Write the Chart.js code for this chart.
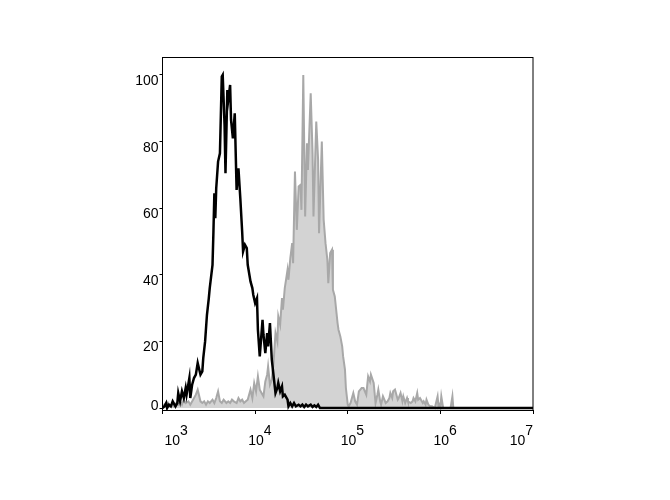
<!DOCTYPE html>
<html>
<head>
<meta charset="utf-8">
<script src="https://cdn.jsdelivr.net/npm/chart.js@4/dist/chart.umd.min.js"></script>
<style>
  html, body { margin: 0; padding: 0; background: #fff; }
  #wrap { width: 670px; height: 500px; }
</style>
</head>
<body>
<div id="wrap"><canvas id="histo" width="670" height="500"></canvas></div>
<script>
// x positions are in decades (log10 of fluorescence), y is % of max
var xTicks = [3, 4, 5, 6, 7];
var yTicks = [0, 20, 40, 60, 80, 100];

var blackX = [3.00, 3.02, 3.04, 3.05, 3.07, 3.09, 3.11, 3.14, 3.16, 3.17, 3.19, 3.21, 3.23, 3.25, 3.26, 3.29, 3.30, 3.32, 3.34, 3.36,
  3.38, 3.41, 3.43, 3.44, 3.46, 3.48, 3.50, 3.51, 3.54, 3.55, 3.56, 3.57, 3.58, 3.60, 3.62, 3.64, 3.65, 3.67, 3.68, 3.70,
  3.71, 3.73, 3.74, 3.76, 3.78, 3.80, 3.82, 3.84, 3.86, 3.87, 3.89, 3.91, 3.92, 3.95, 3.97, 3.98, 4.00, 4.02, 4.03, 4.05,
  4.08, 4.09, 4.11, 4.13, 4.14, 4.16, 4.17, 4.18, 4.20, 4.22, 4.24, 4.25, 4.27, 4.29, 4.30, 4.32, 4.35, 4.36, 4.38, 4.40,
  4.42, 4.44, 4.47, 4.49, 4.51, 4.53, 4.55, 4.57, 4.60, 4.62, 4.64, 4.66, 4.68, 4.70, 7.00];
var blackY = [0, 0.5, 1.5, 0, 1, 0.5, 2, 0.5, 1.5, 4.5, 2, 5, 3, 6, 4, 9, 3, 7, 9, 10,
  13.5, 10, 11, 15, 20, 28, 33, 36, 43, 53, 64.5, 57, 66, 74, 76.5, 99.5, 100, 85, 70.5, 95.5,
  92.5, 97, 86.5, 81, 88.5, 65.5, 72, 63, 53, 47, 49, 48, 43, 38, 36, 34, 31.5, 33, 23.5, 15.5,
  26.5, 22, 16.5, 22.5, 18.5, 25.5, 20, 14.5, 9.5, 4.5, 6, 7.5, 5, 6.5, 3.5, 4, 2.5, 0.5, 1.5, 0.5,
  1.5, 0.5, 1, 0.5, 1, 0.3, 1, 0.5, 1, 0.3, 0.8, 0.3, 1, 0, 0];

var grayX = [3.00, 3.02, 3.04, 3.06, 3.08, 3.10, 3.12, 3.15, 3.17, 3.19, 3.21, 3.23, 3.25, 3.28, 3.30, 3.33, 3.36, 3.38, 3.41, 3.43,
  3.45, 3.47, 3.49, 3.51, 3.54, 3.56, 3.58, 3.60, 3.62, 3.64, 3.66, 3.69, 3.71, 3.73, 3.75, 3.77, 3.80, 3.82, 3.84, 3.86,
  3.88, 3.90, 3.92, 3.95, 3.97, 3.99, 4.01, 4.03, 4.05, 4.08, 4.09, 4.11, 4.13, 4.14, 4.16, 4.18, 4.20, 4.22, 4.24, 4.25,
  4.27, 4.29, 4.30, 4.32, 4.35, 4.36, 4.38, 4.40, 4.41, 4.43, 4.45, 4.47, 4.49, 4.50, 4.52, 4.54, 4.56, 4.57,
  4.60, 4.62, 4.63, 4.66, 4.68, 4.69, 4.72, 4.74, 4.76, 4.78, 4.79, 4.81, 4.83, 4.84, 4.86,
  4.89, 4.90, 4.92, 4.94, 4.95, 4.97, 4.98, 5.00, 5.01, 5.03, 5.06, 5.08, 5.10, 5.12, 5.15, 5.17, 5.20, 5.22, 5.24, 5.25,
  5.28, 5.30, 5.32, 5.33, 5.35, 5.36, 5.38, 5.41, 5.43, 5.45, 5.46, 5.48, 5.49, 5.51, 5.54, 5.55, 5.57, 5.59, 5.60, 5.62,
  5.64, 5.65, 5.68, 5.70, 5.71, 5.73, 5.75, 5.76, 5.78, 5.81, 5.82, 5.84, 5.85, 5.87, 5.89, 5.91, 5.94, 5.97, 5.98, 5.99,
  6.00, 6.01, 6.03, 6.11, 6.13, 6.14, 7.00];
var grayY = [0, 1, 0.5, 1.5, 0.5, 1, 0.5, 1.5, 1, 2, 1, 2.5, 1.5, 2, 1, 2.5, 4, 5.5, 2, 1.5,
  2, 1, 2, 1.5, 2.5, 1.5, 3, 5, 2, 1.5, 2.5, 1.5, 2, 1.5, 2.5, 2, 1.5, 3, 2, 2.5,
  1.5, 2, 2.5, 5.5, 3, 7.5, 5, 9.5, 5.5, 4, 3.5, 8, 10, 12.5, 7, 8.5, 14, 22.5, 20, 27.5,
  25, 33, 29.5, 36, 41.5, 38.5, 45, 49.5, 43.5, 71, 53.5, 66.5, 67, 59.5, 100, 57.5, 79.5, 71.5,
  94.5, 76.5, 57.5, 86, 74.5, 52.5, 80, 56.5, 49.5, 44.5, 37.5, 46.5, 47.5, 35.5, 33.5,
  25.5, 23.5, 21.5, 18.5, 15.5, 11.5, 6, 1, 0.5, 1.5, 4.5, 2, 1, 5, 6, 6, 4, 9.5, 8, 10,
  7.5, 1.5, 4, 5.5, 2, 1, 3.5, 1.5, 2, 3, 4.5, 3, 5, 5.5, 2.5, 3, 4.5, 2, 3.5, 1.5,
  3, 2, 1.5, 2, 3, 2, 4.5, 2.5, 3, 1.5, 2, 1, 2.5, 1, 0.5, 0.5, 0, 3.5, 0.5, 1,
  0.3, 3.5, 0, 0, 3.5, 0, 0];

function toPoints(xs, ys) {
  return xs.map(function (v, i) { return { x: v, y: ys[i] }; });
}

var labelFont = '14px "Liberation Sans", Arial, sans-serif';

// frame + tick labels drawn here so "10" and the exponent can sit like the original
var axisText = {
  id: "axisText",
  afterDraw: function (chart) {
    var ctx = chart.ctx, a = chart.chartArea, x = chart.scales.x, y = chart.scales.y;
    ctx.save();
    ctx.strokeStyle = "#000";
    ctx.lineWidth = 1;
    ctx.strokeRect(a.left, Math.round(a.top) + 0.5, a.right - a.left, Math.round(a.bottom - a.top));

    ctx.font = labelFont;
    ctx.fillStyle = "#000";
    ctx.textBaseline = "alphabetic";

    ctx.textAlign = "right";
    yTicks.forEach(function (v) {
      var base = y.getPixelForValue(v) + 10;
      if (base > a.bottom) base = a.bottom;
      ctx.fillText(String(v), a.left - 4, base);
    });

    ctx.textAlign = "left";
    xTicks.forEach(function (v) {
      var exp = String(v);
      var wb = ctx.measureText("10").width, we = ctx.measureText(exp).width;
      var left = x.getPixelForValue(v) - 7;
      left = Math.max(left, a.left + 2);
      left = Math.min(left, a.right - wb - we);
      ctx.fillText("10", left, a.bottom + 35);
      ctx.fillText(exp, left + wb, a.bottom + 25);
    });
    ctx.restore();
  }
};

var ctx = document.getElementById("histo").getContext("2d");
var histo = new Chart(ctx, {
  type: "line",
  data: {
    datasets: [
      {
        label: "control",
        data: toPoints(blackX, blackY),
        borderColor: "#000000",
        borderWidth: 2.5,
        pointRadius: 0,
        tension: 0,
        fill: false
      },
      {
        label: "stained",
        data: toPoints(grayX, grayY),
        borderColor: "#a8a8a8",
        backgroundColor: "#d3d3d3",
        borderWidth: 2,
        pointRadius: 0,
        tension: 0,
        fill: "origin"
      }
    ]
  },
  options: {
    responsive: false,
    animation: false,
    layout: { padding: { left: 0, right: 137, top: 57, bottom: 0 } },
    plugins: { legend: { display: false }, tooltip: { enabled: false } },
    scales: {
      x: {
        type: "linear",
        min: 3,
        max: 7,
        afterBuildTicks: function (s) { s.ticks = xTicks.map(function (v) { return { value: v }; }); },
        afterFit: function (s) { s.height = 90; },
        ticks: { display: false },
        grid: { drawOnChartArea: false, drawTicks: true, tickLength: 4, color: "#000" },
        border: { display: false }
      },
      y: {
        type: "linear",
        min: -0.6,
        max: 105.4,
        afterBuildTicks: function (s) { s.ticks = yTicks.map(function (v) { return { value: v }; }); },
        afterFit: function (s) { s.width = 162.5; },
        ticks: { display: false },
        grid: { drawOnChartArea: false, drawTicks: true, tickLength: 3, color: "#000" },
        border: { display: false }
      }
    }
  },
  plugins: [axisText]
});
</script>
</body>
</html>
